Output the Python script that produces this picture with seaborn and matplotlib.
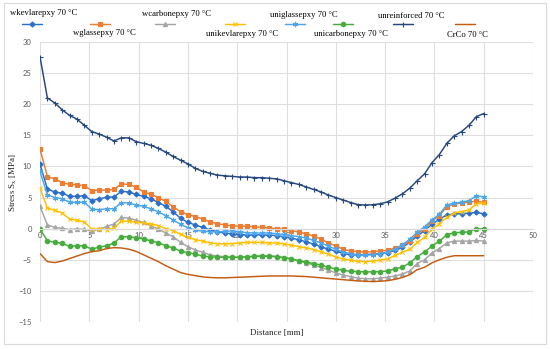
import matplotlib
matplotlib.use("Agg")
import matplotlib.pyplot as plt
import seaborn as sns
import pandas as pd
from matplotlib.lines import Line2D
from matplotlib.patches import Rectangle

distance = [0, 0.75, 1.5, 2.25, 3, 3.75, 4.5, 5.25, 6, 6.75, 7.5, 8.25, 9, 9.75, 10.5, 11.25,
            12, 12.75, 13.5, 14.25, 15, 15.75, 16.5, 17.25, 18, 18.75, 19.5, 20.25, 21, 21.75,
            22.5, 23.25, 24, 24.75, 25.5, 26.25, 27, 27.75, 28.5, 29.25, 30, 30.75, 31.5, 32.25,
            33, 33.75, 34.5, 35.25, 36, 36.75, 37.5, 38.25, 39, 39.75, 40.5, 41.25, 42, 42.75,
            43.5, 44.25, 45]

wkevlarepxy = [10.4, 6.35, 5.9, 5.7, 5.2, 5.2, 5.3, 4.5, 4.8, 5.05,
               5.1, 6.0, 5.9, 5.5, 5.2, 4.8, 4.2, 3.6, 2.7, 1.7,
               1.0, 0.6, 0.2, -0.2, -0.5, -0.7, -0.85, -0.95, -1.0, -1.0,
               -1.0, -1.05, -1.1, -1.3, -1.5, -1.8, -2.1, -2.5, -2.9, -3.3,
               -3.6, -4.0, -4.2, -4.2, -4.15, -4.1, -4.0, -3.85, -3.5, -3.0,
               -2.2, -1.2, -0.3, 0.7, 1.5, 2.2, 2.35, 2.4, 2.5, 2.6, 2.4]
wglassepxy = [12.8, 8.35, 8.0, 7.4, 7.1, 7.05, 6.9, 6.1, 6.2, 6.2,
              6.3, 7.2, 7.1, 6.7, 5.9, 5.55, 5.0, 4.4, 3.5, 2.75,
              2.25, 1.95, 1.55, 1.1, 0.8, 0.6, 0.45, 0.4, 0.4, 0.3,
              0.2, 0.1, 0.0, -0.1, -0.3, -0.55, -0.8, -1.2, -1.7, -2.3,
              -2.8, -3.3, -3.6, -3.7, -3.75, -3.7, -3.6, -3.5, -3.1, -2.7,
              -2.0, -0.9, 0.0, 1.2, 2.1, 3.5, 3.95, 4.1, 4.3, 4.4, 4.25]
wcarbonepxy = [3.6, 0.6, 0.2, 0.05, -0.15, -0.05, -0.1, -0.4, -0.1, 0.35,
               0.75, 1.8, 1.7, 1.35, 1.0, 0.45, -0.05, -0.7, -1.3, -2.2,
               -2.9, -3.4, -3.8, -4.2, -4.4, -4.5, -4.6, -4.6, -4.5, -4.4,
               -4.35, -4.35, -4.45, -4.65, -4.9, -5.2, -5.5, -5.85, -6.25, -6.65,
               -7.1, -7.45, -7.7, -7.95, -8.05, -8.05, -7.95, -7.8, -7.6, -7.3,
               -6.8, -5.6, -5.0, -3.9, -3.2, -2.3, -2.0, -2.0, -2.0, -1.9, -2.0]
unikevlarepxy = [6.5, 3.3, 2.95, 2.5, 1.55, 1.35, 1.05, -0.05, -0.05, -0.15,
                 0.1, 1.2, 1.2, 1.05, 0.9, 0.75, 0.5, 0.0, -0.3, -0.9,
                 -1.4, -1.75, -2.0, -2.3, -2.4, -2.45, -2.4, -2.3, -2.2, -2.2,
                 -2.2, -2.3, -2.3, -2.45, -2.65, -2.9, -3.1, -3.35, -3.7, -4.1,
                 -4.55, -4.85, -5.1, -5.25, -5.3, -5.2, -5.05, -4.85, -4.3, -3.8,
                 -3.3, -2.2, -1.4, -0.1, 0.8, 1.8, 2.5, 2.75, 3.0, 4.0, 4.1]
uniglassepxy = [9.2, 5.45, 5.0, 4.8, 4.25, 4.25, 4.25, 3.1, 3.05, 3.2,
                3.2, 4.2, 4.1, 3.8, 3.6, 3.2, 2.7, 2.1, 1.4, 0.7,
                0.15, -0.25, -0.4, -0.5, -0.5, -0.45, -0.35, -0.5, -0.65, -0.7,
                -0.7, -0.7, -0.8, -0.95, -1.1, -1.3, -1.5, -1.9, -2.3, -2.8,
                -3.3, -3.75, -4.0, -4.2, -4.25, -4.2, -4.0, -3.8, -3.3, -2.6,
                -1.7, -0.6, 0.3, 1.4, 2.3, 3.8, 4.1, 4.25, 4.5, 5.3, 5.1]
unicarbonepxy = [-0.05, -1.95, -2.2, -2.35, -2.85, -2.75, -2.75, -3.3, -2.95, -2.75,
                 -2.3, -1.3, -1.3, -1.45, -1.65, -1.95, -2.25, -2.75, -3.1, -3.6,
                 -3.85, -4.1, -4.4, -4.5, -4.6, -4.6, -4.6, -4.6, -4.55, -4.45,
                 -4.45, -4.45, -4.5, -4.65, -4.85, -5.15, -5.35, -5.6, -5.85, -6.2,
                 -6.45, -6.7, -6.85, -6.9, -6.95, -6.95, -6.9, -6.8, -6.45, -6.2,
                 -5.5, -4.5, -3.75, -2.8, -2.0, -1.0, -0.65, -0.6, -0.5, 0.0, -0.05]
unreinforced = [27.6, 21.0, 20.2, 19.1, 18.2, 17.6, 16.6, 15.6, 15.2, 14.7,
                14.1, 14.6, 14.6, 14.0, 13.7, 13.4, 12.9, 12.3, 11.6, 11.0,
                10.4, 9.7, 9.2, 8.9, 8.6, 8.5, 8.4, 8.3, 8.3, 8.2,
                8.2, 8.1, 8.0, 7.7, 7.4, 7.1, 6.7, 6.3, 5.9, 5.4,
                5.0, 4.6, 4.2, 3.85, 3.8, 3.85, 4.0, 4.3, 4.9, 5.6,
                6.5, 7.7, 8.8, 10.6, 11.9, 13.7, 14.9, 15.6, 16.6, 18.0, 18.5]
CrCo = [-4.0, -5.3, -5.45, -5.2, -4.8, -4.4, -4.0, -3.7, -3.55, -3.2,
        -3.05, -3.1, -3.3, -3.65, -4.2, -4.75, -5.3, -5.95, -6.5, -7.05,
        -7.35, -7.55, -7.75, -7.85, -7.9, -7.9, -7.85, -7.8, -7.75, -7.7,
        -7.65, -7.6, -7.6, -7.6, -7.6, -7.65, -7.7, -7.8, -7.9, -8.0,
        -8.1, -8.2, -8.3, -8.4, -8.45, -8.5, -8.45, -8.35, -8.15, -7.85,
        -7.4, -6.6, -6.2, -5.5, -5.0, -4.6, -4.35, -4.35, -4.35, -4.35, -4.35]

series_names = ["wkevlarepxy 70 °C", "wglassepxy 70 °C", "wcarbonepxy 70 °C",
                "unikevlarepxy 70 °C", "uniglassepxy 70 °C", "unicarbonepxy 70 °C",
                "unreinforced 70 °C", "CrCo 70 °C"]
series_values = [wkevlarepxy, wglassepxy, wcarbonepxy, unikevlarepxy,
                 uniglassepxy, unicarbonepxy, unreinforced, CrCo]

x_ticks = [0, 5, 10, 15, 20, 25, 30, 35, 40, 45, 50]
y_ticks = [-15, -10, -5, 0, 5, 10, 15, 20, 25, 30]

colors = ["#2b6fc9", "#ed7d31", "#a5a5a5", "#ffc000", "#4ea6ea", "#45ad3c", "#24477f", "#c55a11"]
markers = ["D", "s", "^", "x", (6, 2, 0), "o", "+", None]
msizes = [2.6, 3.2, 3.0, 3.3, 3.8, 3.2, 3.6, 0]

sns.set_style("white")
plt.rcParams["font.family"] = ["Liberation Serif", "DejaVu Sans"]
plt.rcParams["mathtext.fontset"] = "stix"

fig = plt.figure(figsize=(5.5, 3.49), dpi=100)
ax = fig.add_axes([40 / 550, 1 - 322 / 349, 493 / 550, 280 / 349])

fig.add_artist(Rectangle((4 / 550, 5 / 349), 542 / 550, 341 / 349, transform=fig.transFigure,
                         fill=False, edgecolor="#d9d9d9", linewidth=0.8))

for name, vals, c, m, ms in zip(series_names, series_values, colors, markers, msizes):
    df = pd.DataFrame({"Distance": distance, "Stress": vals})
    kw = dict(x="Distance", y="Stress", data=df, ax=ax, color=c, linewidth=1.05,
              estimator=None, sort=False)
    if m is not None:
        kw.update(marker=m, markersize=ms, markeredgecolor=c, markerfacecolor=c,
                  markeredgewidth=0.8)
    sns.lineplot(**kw)

ax.set_xlim(0, 50)
ax.set_ylim(-15, 30)
ax.set_xticks(x_ticks)
ax.set_yticks(y_ticks)
ax.grid(True, color="#dedede", linewidth=0.8)
ax.set_axisbelow(True)
for s in ["top", "right", "left"]:
    ax.spines[s].set_visible(False)
ax.spines["bottom"].set_position(("data", 0))
ax.spines["bottom"].set_color("#d9d9d9")
ax.spines["bottom"].set_linewidth(0.8)
ax.tick_params(axis="both", length=0, labelsize=5.5, labelcolor="#595959")
ax.tick_params(axis="y", pad=6)
ax.tick_params(axis="x", pad=2.5)
for lab in ax.get_xticklabels() + ax.get_yticklabels():
    lab.set_fontfamily(["Lato", "DejaVu Sans"])

ax.set_xlabel("Distance [mm]", fontsize=6.5)
ax.set_ylabel(r"Stress S$_{\mathrm{x}}$ [MPa]", fontsize=6.5)
ax.xaxis.set_label_coords(0.48, -0.025)
ax.yaxis.set_label_coords(-0.043, 0.5)

# legend (Excel-like staggered layout)
handle_cx = [32, 100, 165, 235, 295, 343, 403, 465]
label_pos = [(10, 13), (73, 33), (142, 14), (206, 34), (270, 15), (314, 34), (378, 16), (447, 35)]
W, H = 550.0, 349.0
for name, c, m, ms, cx, (lx, ly) in zip(series_names, colors, markers, msizes, handle_cx, label_pos):
    xs = [(cx - 10) / W, cx / W, (cx + 10) / W]
    ys = [1 - 24 / H] * 3
    ln = Line2D(xs, ys, transform=fig.transFigure, color=c, linewidth=1.05)
    if m is not None:
        ln.set_marker(m)
        ln.set_markevery([1])
        ln.set_markersize(ms)
        ln.set_markerfacecolor(c)
        ln.set_markeredgecolor(c)
        ln.set_markeredgewidth(0.8)
    fig.add_artist(ln)
    fig.text(lx / W, 1 - ly / H, name, fontsize=6.2, ha="left", va="center", color="#000000")

fig.savefig("out.png", dpi=100)
